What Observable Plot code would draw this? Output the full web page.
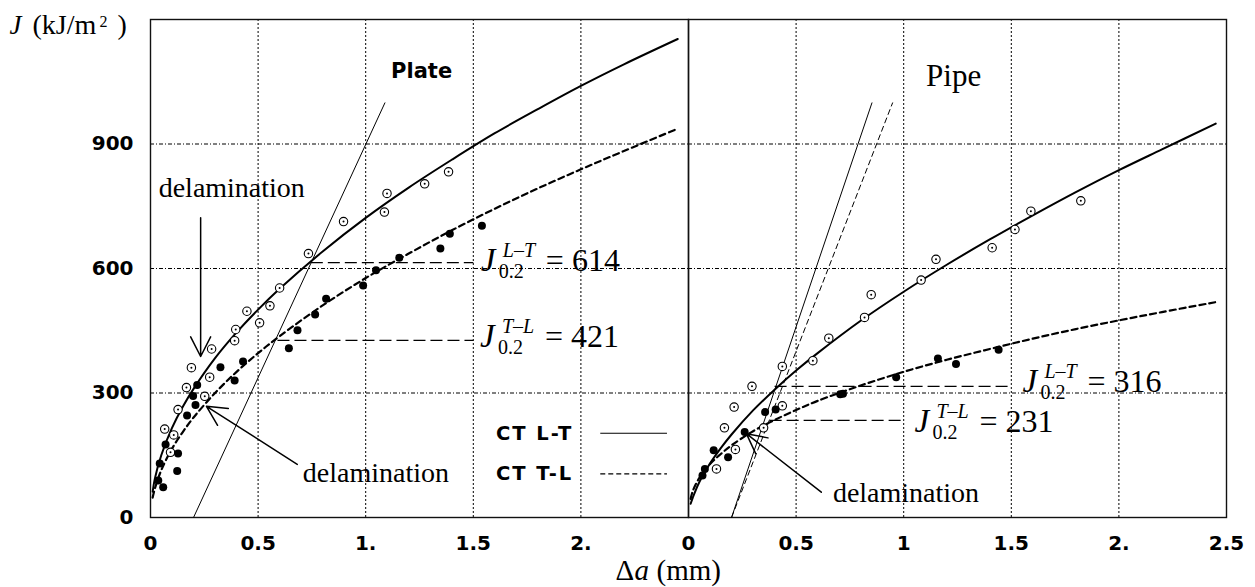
<!DOCTYPE html>
<html>
<head>
<meta charset="utf-8">
<script src="https://cdn.jsdelivr.net/npm/d3@7"></script>
<script src="https://cdn.jsdelivr.net/npm/@observablehq/plot@0.6"></script>
<style>
  html, body { margin: 0; padding: 0; background: white; }
  #chart svg { display: block; }
  #chart g[font-family^="DejaVu"][font-size^="19.5"] { letter-spacing: 2px; }
</style>
</head>
<body>
<div id="chart"></div>
<script>
// ---------- data ----------
const panels = ["Plate", "Pipe"];
const yTicks = [0, 300, 600, 900];
const gridXTicks = [0.5, 1, 1.5, 2];
const gridYTicks = [300, 600, 900];
const xTicksPlate = [0, 0.5, 1, 1.5, 2];
const xLabelsPlate = ["0", "0.5", "1.", "1.5", "2."];
const xTicksPipe = [0, 0.5, 1, 1.5, 2, 2.5];
const xLabelsPipe = ["0", "0.5", "1", "1.5", "2.", "2.5"];

// fitted J-R curves
const fitX = [0.01, 0.02, 0.05, 0.1, 0.15, 0.2, 0.3, 0.4, 0.5, 0.6, 0.8, 1.0, 1.2, 1.4, 1.6, 1.8, 2.0, 2.2, 2.45];
const plateLTfit = [62, 93, 150, 216, 267, 310, 384, 446, 501, 551, 641, 722, 795, 862, 926, 984, 1040, 1092, 1153];
const plateTLfit = [48, 69, 114, 166, 206, 241, 300, 351, 396, 437, 511, 577, 636, 692, 744, 793, 839, 883, 937];
const pipeLTfit = [33, 48, 85, 130, 167, 200, 258, 308, 354, 396, 474, 544, 609, 670, 728, 784, 837, 887, 949];
const pipeTLfit = [45, 64, 95, 129, 153, 174, 208, 235, 259, 281, 318, 351, 380, 406, 431, 454, 475, 495, 519];

// measured points
const plateLTx = [0.093, 0.066, 0.108, 0.128, 0.167, 0.190, 0.252, 0.275, 0.284, 0.391, 0.396, 0.448, 0.507, 0.555, 0.600, 0.734, 0.897, 1.087, 1.099, 1.274, 1.385];
const plateLTy = [157, 213, 199, 260, 313, 361, 292, 338, 406, 426, 453, 497, 469, 510, 553, 636, 713, 736, 781, 804, 833];
const plateTLx = [0.036, 0.059, 0.043, 0.070, 0.124, 0.128, 0.170, 0.209, 0.198, 0.217, 0.325, 0.391, 0.430, 0.643, 0.683, 0.765, 0.816, 0.988, 1.048, 1.156, 1.347, 1.391, 1.540];
const plateTLy = [89, 73, 130, 176, 112, 154, 246, 271, 293, 319, 362, 330, 376, 408, 451, 489, 527, 559, 596, 626, 648, 684, 703];
const pipeLTx = [0.130, 0.167, 0.212, 0.218, 0.295, 0.349, 0.436, 0.436, 0.578, 0.652, 0.818, 0.849, 1.081, 1.150, 1.411, 1.517, 1.591, 1.823];
const pipeLTy = [117, 216, 266, 164, 316, 216, 269, 364, 378, 432, 482, 537, 572, 622, 650, 694, 738, 763];
const pipeTLx = [0.065, 0.076, 0.117, 0.184, 0.261, 0.356, 0.405, 0.705, 0.718, 0.965, 1.159, 1.243, 1.441];
const pipeTLy = [101, 117, 162, 145, 206, 254, 260, 297, 298, 338, 383, 370, 404];

// 0.2 mm offset (blunting) lines
const bluntPanel = ["Plate", "Pipe", "Pipe"];
const bluntX1 = [0.2, 0.2, 0.2];
const bluntX2 = [1.09, 0.853, 0.949];
const bluntY2 = [1000, 1000, 1000];
const bluntDashed = [false, false, true];

// J0.2 values
const eqPanel = ["Plate", "Plate", "Pipe", "Pipe"];
const eqLineX1 = [0.745, 0.59, 0.40, 0.377];
const eqLineX2 = [1.5, 1.5, 1.5, 1.0];
const eqLineY = [614, 427, 316, 234];
const eqTextX = [1.535, 1.531, 1.552, 1.050];
const eqTextY = [593, 412, 302, 206];
const eqSup = ["L\u2013T", "T\u2013L", "L\u2013T", "T\u2013L"];
const eqVal = ["614", "421", "316", "231"];

// delamination annotations
const delPanel = ["Plate", "Plate", "Pipe"];
const delTextX = [0.038, 0.708, 0.671];
const delTextY = [772, 85, 37];
const delArrX1 = [0.233, 0.682, 0.617];
const delArrY1 = [722, 128, 61];
const delArrX2 = [0.233, 0.260, 0.269];
const delArrY2 = [388, 268, 202];

// legend
const legendLabels = ["CT L-T", "CT T-L"];
const legendDashed = [false, true];
const legendTextX = 1.605;
const legendLineX1 = 2.09;
const legendLineX2 = 2.40;
const legendY = [203, 105];

// panel titles
const titleText = ["Plate", "Pipe"];
const titleX = [1.118, 1.104];
const titleY = [1059, 1039];

// ---------- tables ----------
const curves = [];
fitX.forEach((x, i) => {
  curves.push({panel: "Plate", s: "LT", x, y: plateLTfit[i]});
  curves.push({panel: "Plate", s: "TL", x, y: plateTLfit[i]});
  curves.push({panel: "Pipe", s: "LT", x, y: pipeLTfit[i]});
  curves.push({panel: "Pipe", s: "TL", x, y: pipeTLfit[i]});
});
const curveLT = curves.filter(d => d.s === "LT");
const curveTL = curves.filter(d => d.s === "TL");
const openPts = [
  ...plateLTx.map((x, i) => ({panel: "Plate", x, y: plateLTy[i]})),
  ...pipeLTx.map((x, i) => ({panel: "Pipe", x, y: pipeLTy[i]}))
];
const filledPts = [
  ...plateTLx.map((x, i) => ({panel: "Plate", x, y: plateTLy[i]})),
  ...pipeTLx.map((x, i) => ({panel: "Pipe", x, y: pipeTLy[i]}))
];
const blunt = bluntPanel.map((p, i) => ({panel: p, x1: bluntX1[i], y1: 0, x2: bluntX2[i], y2: bluntY2[i], dashed: bluntDashed[i]}));
const eqs = eqPanel.map((p, i) => ({panel: p, x1: eqLineX1[i], x2: eqLineX2[i], ly: eqLineY[i], x: eqTextX[i], y: eqTextY[i], sup: eqSup[i], val: eqVal[i]}));
const dels = delPanel.map((p, i) => ({panel: p, tx: delTextX[i], ty: delTextY[i], x1: delArrX1[i], y1: delArrY1[i], x2: delArrX2[i], y2: delArrY2[i]}));
const legend = legendLabels.map((l, i) => ({panel: "Plate", label: l, y: legendY[i], dashed: legendDashed[i], x: legendTextX, x1: legendLineX1, x2: legendLineX2}));
const titles = titleText.map((t, i) => ({panel: panels[i], t, x: titleX[i], y: titleY[i]}));
const xTickRows = [
  ...xTicksPlate.map((v, i) => ({panel: "Plate", v, label: xLabelsPlate[i]})),
  ...xTicksPipe.map((v, i) => ({panel: "Pipe", v, label: xLabelsPipe[i]}))
];
const yTickRows = yTicks.map(v => ({panel: "Plate", v, label: String(v)}));
const one = [{panel: "Plate"}];
const onePipe = [{panel: "Pipe"}];

const SERIF = "Liberation Serif, Times New Roman, serif";
const SANS = "DejaVu Sans, sans-serif";

const chart = Plot.plot({
  width: 1255,
  height: 587,
  marginLeft: 149,
  marginRight: 29,
  marginTop: 19,
  marginBottom: 70,
  style: {fontFamily: SERIF, background: "white", overflow: "visible", color: "black"},
  fx: {domain: panels, padding: 0, axis: null, label: null},
  x: {domain: [0, 2.5], axis: null, label: null},
  y: {domain: [0, 1200], axis: null, label: null},
  marks: [
    Plot.gridX(gridXTicks, {stroke: "black", strokeOpacity: 1, strokeWidth: 1, strokeDasharray: "2,2"}),
    Plot.gridY(gridYTicks, {stroke: "black", strokeOpacity: 1, strokeWidth: 1, strokeDasharray: "4,2,1,2"}),
    Plot.frame({stroke: "#111", strokeWidth: 1.4}),
    // tick labels
    Plot.text(yTickRows, {y: "v", fx: "panel", text: "label", frameAnchor: "left", dx: -17, textAnchor: "end", lineAnchor: "middle", fontSize: 20, fontWeight: "bold", fontFamily: SANS}),
    Plot.text(xTickRows, {x: "v", fx: "panel", text: "label", frameAnchor: "bottom", dy: 18, lineAnchor: "top", fontSize: 20, fontWeight: "bold", fontFamily: SANS}),

    // blunting lines
    Plot.link(blunt.filter(d => !d.dashed), {x1: "x1", y1: "y1", x2: "x2", y2: "y2", fx: "panel", stroke: "black", strokeWidth: 1}),
    Plot.link(blunt.filter(d => d.dashed), {x1: "x1", y1: "y1", x2: "x2", y2: "y2", fx: "panel", stroke: "black", strokeWidth: 1, strokeDasharray: "6,3"}),

    // J0.2 horizontal dashes
    Plot.link(eqs, {x1: "x1", x2: "x2", y1: "ly", y2: "ly", fx: "panel", stroke: "black", strokeWidth: 1.2, strokeDasharray: "12,5"}),

    // fitted curves
    Plot.line(curveLT, {x: "x", y: "y", z: "panel", fx: "panel", stroke: "black", strokeWidth: 2, curve: "catmull-rom"}),
    Plot.line(curveTL, {x: "x", y: "y", z: "panel", fx: "panel", stroke: "black", strokeWidth: 2.2, strokeDasharray: "6,4", curve: "catmull-rom"}),

    // points
    Plot.dot(openPts, {x: "x", y: "y", fx: "panel", r: 4.2, stroke: "black", strokeWidth: 1.1, fill: "white"}),
    Plot.dot(openPts, {x: "x", y: "y", fx: "panel", r: 1, fill: "black"}),
    Plot.dot(filledPts, {x: "x", y: "y", fx: "panel", r: 4, fill: "black"}),

    // equations J_{0.2}
    Plot.text(eqs, {x: "x", y: "y", fx: "panel", text: () => "J", fontStyle: "italic", fontSize: 33, textAnchor: "start", lineAnchor: "bottom"}),
    Plot.text(eqs, {x: "x", y: "y", fx: "panel", text: "sup", fontStyle: "italic", fontSize: 20, textAnchor: "start", lineAnchor: "bottom", dx: 22, dy: -14}),
    Plot.text(eqs, {x: "x", y: "y", fx: "panel", text: () => "0.2", fontSize: 20, textAnchor: "start", lineAnchor: "bottom", dx: 18, dy: 7}),
    Plot.text(eqs, {x: "x", y: "y", fx: "panel", text: d => "= " + d.val, fontSize: 32, textAnchor: "start", lineAnchor: "bottom", dx: 65}),

    // delamination
    Plot.text(dels, {x: "tx", y: "ty", fx: "panel", text: () => "delamination", fontSize: 28, textAnchor: "start", lineAnchor: "bottom"}),
    Plot.arrow(dels, {x1: "x1", y1: "y1", x2: "x2", y2: "y2", fx: "panel", stroke: "black", strokeWidth: 1.5, headLength: 22, headAngle: 54}),

    // legend
    Plot.text(legend, {x: "x", y: "y", fx: "panel", text: "label", fontFamily: SANS, fontWeight: "bold", fontSize: 19.5, textAnchor: "start", lineAnchor: "middle"}),
    Plot.link(legend.filter(d => !d.dashed), {x1: "x1", x2: "x2", y1: "y", y2: "y", fx: "panel", stroke: "black", strokeWidth: 1.2}),
    Plot.link(legend.filter(d => d.dashed), {x1: "x1", x2: "x2", y1: "y", y2: "y", fx: "panel", stroke: "black", strokeWidth: 1.2, strokeDasharray: "5,3"}),

    // panel titles
    Plot.text(titles.filter(d => d.panel === "Plate"), {x: "x", y: "y", fx: "panel", text: "t", fontFamily: SANS, fontWeight: "bold", fontSize: 21, textAnchor: "start", lineAnchor: "bottom"}),
    Plot.text(titles.filter(d => d.panel === "Pipe"), {x: "x", y: "y", fx: "panel", text: "t", fontSize: 31, textAnchor: "start", lineAnchor: "bottom"}),

    // y-axis label J (kJ/m^2)
    Plot.text(one, {fx: "panel", frameAnchor: "top-left", text: () => "J", fontStyle: "italic", fontSize: 27, textAnchor: "start", lineAnchor: "bottom", dx: -141, dy: 14}),
    Plot.text(one, {fx: "panel", frameAnchor: "top-left", text: () => "(kJ/m", fontSize: 28, textAnchor: "start", lineAnchor: "bottom", dx: -118, dy: 14}),
    Plot.text(one, {fx: "panel", frameAnchor: "top-left", text: () => "2", fontSize: 16, textAnchor: "start", lineAnchor: "bottom", dx: -51, dy: 7}),
    Plot.text(one, {fx: "panel", frameAnchor: "top-left", text: () => ")", fontSize: 28, textAnchor: "start", lineAnchor: "bottom", dx: -33, dy: 14}),

    // x-axis label Δa (mm)
    Plot.text(onePipe, {fx: "panel", frameAnchor: "bottom-left", text: () => "\u0394", fontSize: 29, textAnchor: "start", lineAnchor: "bottom", dx: -73, dy: 62}),
    Plot.text(onePipe, {fx: "panel", frameAnchor: "bottom-left", text: () => "a", fontStyle: "italic", fontSize: 29, textAnchor: "start", lineAnchor: "bottom", dx: -54, dy: 62}),
    Plot.text(onePipe, {fx: "panel", frameAnchor: "bottom-left", text: () => "(mm)", fontSize: 29, textAnchor: "start", lineAnchor: "bottom", dx: -32, dy: 62})
  ]
});
document.getElementById("chart").appendChild(chart);
</script>
</body>
</html>
